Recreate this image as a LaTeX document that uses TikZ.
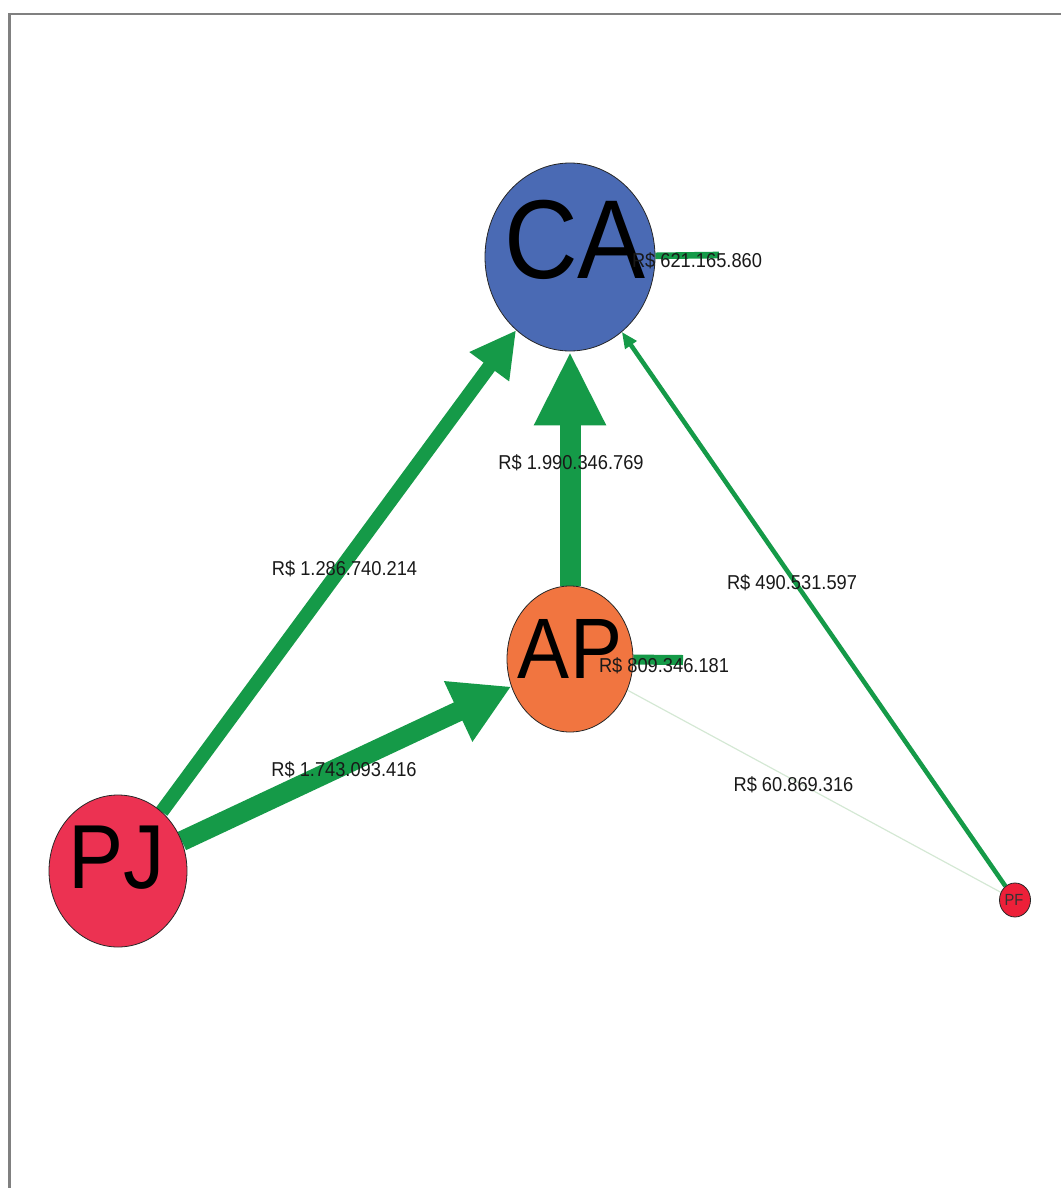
\documentclass[tikz,border=0pt]{standalone}
\usepackage{fontspec}
\setmainfont{Liberation Sans}
\usetikzlibrary{shapes.geometric,arrows.meta}
\definecolor{edgegreen}{RGB}{21,154,72}
\definecolor{cablue}{RGB}{74,106,180}
\definecolor{aporange}{RGB}{241,117,64}
\definecolor{pjred}{RGB}{236,50,82}
\definecolor{pfred}{RGB}{237,32,57}
\definecolor{faintline}{RGB}{212,232,212}
\definecolor{framegray}{RGB}{128,128,128}
\pgfdeclarelayer{bg}
\pgfsetlayers{bg,main}
\begin{document}
\begin{tikzpicture}[x=0.75pt,y=-0.75pt,
  vert/.style={ellipse,draw=black!85,line width=0.6pt,inner sep=0pt},
  flow/.style={draw=edgegreen,fill=edgegreen,line cap=butt},
  vtext/.style={anchor=base,inner sep=0pt,text=black},
  elabel/.style={anchor=base,inner sep=0pt,text=black!90,font=\fontsize{13.7}{16}\selectfont}
]
\useasboundingbox (0,0) rectangle (1061,1188);
\draw[framegray,line width=2pt] (9.7,1188) -- (9.7,14) -- (1061,14);

% vertices
\node[vert,fill=cablue,minimum width=127.5pt,minimum height=141pt] (CA) at (570,257) {};
\node[vert,fill=aporange,minimum width=94.5pt,minimum height=109.5pt] (AP) at (570,659) {};
\node[vert,fill=pjred,minimum width=103.5pt,minimum height=114pt] (PJ) at (118,871) {};
\node[vert,fill=pfred,minimum width=23.25pt,minimum height=25.5pt] (PF) at (1015,900) {};

\coordinate (CAloop) at (719,255);
\coordinate (APloop) at (683,660);

% edges
\begin{pgfonlayer}{bg}
\draw[faintline,line width=0.9pt] (AP) -- (PF);
\draw[flow,line width=10.5pt,-{Triangle[length=34pt,width=34.5pt]}] (PJ) -- (CA);
\draw[flow,line width=15pt,-{Triangle[length=44pt,width=47pt]}] (PJ) -- (AP);
\draw[flow,line width=15.75pt,-{Triangle[length=55.5pt,width=50pt]}] (AP) -- (CA);
\draw[flow,line width=3.4pt,-{Triangle[length=12pt,width=10pt]}] (PF) -- (CA);
\draw[flow,line width=5pt] (CA) -- (CAloop);
\draw[flow,line width=7.5pt] (AP) -- (APloop);
\end{pgfonlayer}

% vertex texts
\node[vtext,font=\fontsize{76.5}{80}\selectfont] (CAtxt) at (575,278) {\scalebox{1}[1.1]{CA}};
\node[vtext,font=\fontsize{58.5}{62}\selectfont] (APtxt) at (570,678) {\scalebox{1}[1.1]{AP}};
\node[vtext,font=\fontsize{62}{66}\selectfont] (PJtxt) at (117,888) {\scalebox{1}[1.1]{PJ}};
\node[vtext,font=\fontsize{11}{12}\selectfont,text=black!80] (PFtxt) at (1014,905) {\scalebox{1}[1.1]{PF}};

% edge labels
\node[elabel] (l1) at (697,267) {\scalebox{1}[1.1]{R\$ 621.165.860}};
\node[elabel] (l2) at (664,672) {\scalebox{1}[1.1]{R\$ 809.346.181}};
\node[elabel] (l3) at (571,469) {\scalebox{1}[1.1]{R\$ 1.990.346.769}};
\node[elabel] (l4) at (344.5,575) {\scalebox{1}[1.1]{R\$ 1.286.740.214}};
\node[elabel] (l5) at (792,589) {\scalebox{1}[1.1]{R\$ 490.531.597}};
\node[elabel] (l6) at (344,776) {\scalebox{1}[1.1]{R\$ 1.743.093.416}};
\node[elabel] (l7) at (793.5,791) {\scalebox{1}[1.1]{R\$ 60.869.316}};
\end{tikzpicture}
\end{document}
